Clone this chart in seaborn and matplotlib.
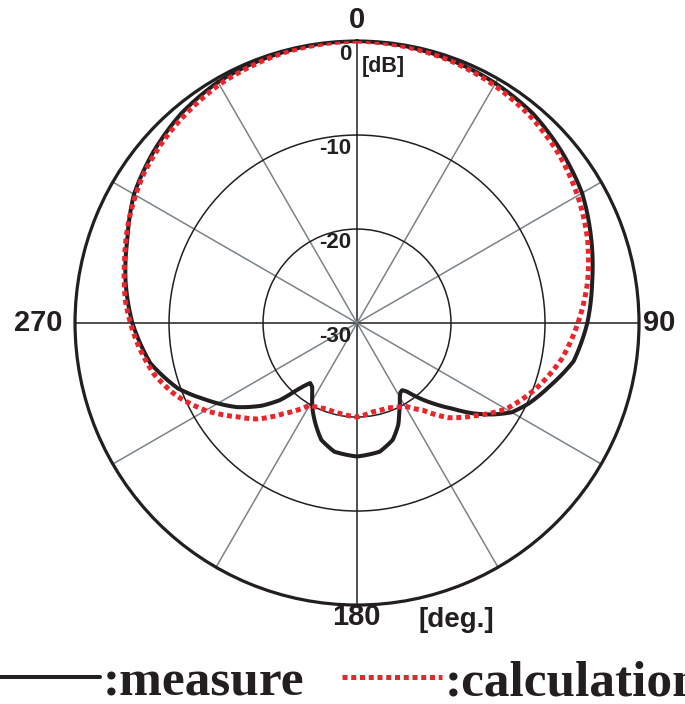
import numpy as np
import pandas as pd
import matplotlib
matplotlib.use("Agg")
import matplotlib.pyplot as plt
from matplotlib.transforms import offset_copy
import seaborn as sns

# measured pattern (angle in deg, level in dB)
meas_deg = [0, 10, 20, 30, 40, 50, 60, 70, 80, 90, 100, 108, 115, 120, 124, 128,
            132, 136, 140, 144, 146, 148, 150, 154, 158, 163, 170, 180, 190, 197,
            202, 207, 212, 215, 218, 220, 222, 225, 229, 232, 235, 243, 250, 259,
            270, 280, 290, 300, 310, 320, 330, 340, 350, 360]
meas_db = [0.0, -0.1, -0.3, -0.55, -0.9, -1.6, -2.35, -3.5, -4.6, -5.5, -6.6, -8.4,
           -9.8, -11.0, -12.6, -14.4, -16.4, -18.0, -19.5, -21.0, -21.4, -21.3,
           -20.9, -19.7, -18.3, -17.0, -16.1, -15.8, -16.1, -17.0, -18.3, -19.6,
           -21.0, -21.7, -21.9, -21.3, -20.4, -18.4, -16.6, -15.5, -14.4, -12.0,
           -9.7, -7.6, -6.1, -5.0, -4.0, -2.6, -1.7, -0.9, -0.4, -0.2, -0.05, 0.0]

# calculated pattern
calc_deg = [0, 10, 20, 30, 40, 50, 60, 70, 80, 90, 100, 110, 120, 128, 136, 143,
            150, 160, 170, 180, 190, 200, 210, 219, 226, 232, 240, 248, 256, 265,
            275, 285, 295, 305, 315, 330, 345, 360]
calc_db = [0.0, -0.15, -0.4, -0.8, -1.3, -2.0, -2.9, -3.9, -5.1, -6.5, -7.9, -9.7,
           -11.7, -14.0, -16.0, -18.4, -19.8, -20.4, -20.4, -20.0, -20.2, -20.3,
           -19.9, -17.6, -15.3, -13.8, -11.4, -9.3, -7.7, -6.5, -5.3, -4.4, -3.3,
           -2.3, -1.6, -0.7, -0.2, 0.0]

r_ticks = [-30, -20, -10, 0]
r_labels = ["-30", "-20", "-10", "0"]
theta_labels = {0: "0", 90: "90", 180: "180", 270: "270"}

measure = pd.DataFrame({"theta": np.deg2rad(meas_deg), "dB": meas_db})
calc = pd.DataFrame({"theta": np.deg2rad(calc_deg), "dB": calc_db})

sns.set_theme(style="white")
plt.rcParams["font.family"] = ["Liberation Sans", "DejaVu Sans"]

ink = "#231f20"
red = "#e8262b"

fig = plt.figure(figsize=(6.85, 7.04), dpi=100)
ax = fig.add_axes([0.1095, 0.1406, 0.8234, 0.8011], projection="polar")
ax.set_theta_zero_location("N")
ax.set_theta_direction(-1)

sns.lineplot(data=measure, x="theta", y="dB", ax=ax, sort=False, estimator=None,
             color=ink, lw=2.9, label=":measure", legend=False, zorder=3)
sns.lineplot(data=calc, x="theta", y="dB", ax=ax, sort=False, estimator=None,
             color=red, lw=3.6, linestyle=(0, (1, 0.75)), label=":calculation",
             legend=False, zorder=4)

# draw segments as arcs in (theta, r) space
for ln in ax.lines[:2]:
    ln.get_path()._interpolation_steps = 30

ax.set_rlim(-30, 0)
ax.set_yticks(r_ticks)
ax.set_yticklabels([])
ax.set_xticks(np.deg2rad(np.arange(0, 360, 30)))
ax.set_xticklabels([])
ax.set_xlabel("")
ax.set_ylabel("")
ax.set_axisbelow(True)
ax.grid(True, axis="x", color="#7a8389", lw=1.1)
ax.grid(True, axis="y", color=ink, lw=1.1)
for i, gl in enumerate(ax.xaxis.get_gridlines()):
    if i % 3 == 0:
        gl.set_color(ink)
ax.spines["polar"].set_color(ink)
ax.spines["polar"].set_linewidth(2.3)
ax.tick_params(pad=0, length=0)

def off(dx, dy):
    return offset_copy(ax.transData, fig=fig, x=dx, y=dy, units="dots")

# radial labels along the 0 deg spoke
for rv, lab in zip(r_ticks, r_labels):
    ax.text(0, rv, lab, transform=off(-6, -13), ha="right", va="center",
            fontsize=16, fontweight="bold", color=ink)
ax.text(0, 0, "[dB]", transform=off(5, -25), ha="left", va="center",
        fontsize=15.5, fontweight="bold", color=ink)

# angle labels
ax.text(np.deg2rad(0), 0, theta_labels[0], transform=off(0, 21), ha="center",
        va="center", fontsize=21, fontweight="bold", color=ink)
ax.text(np.deg2rad(90), 0, theta_labels[90], transform=off(4, 0), ha="left",
        va="center", fontsize=21, fontweight="bold", color=ink)
ax.text(np.deg2rad(180), 0, theta_labels[180], transform=off(-1, -12), ha="center",
        va="center", fontsize=21, fontweight="bold", color=ink)
ax.text(np.deg2rad(270), 0, theta_labels[270], transform=off(-13, 0), ha="right",
        va="center", fontsize=21, fontweight="bold", color=ink)
ax.text(np.deg2rad(180), 0, "[deg.]", transform=off(61, -15), ha="left",
        va="center", fontsize=20, fontweight="bold", color=ink)

fig.legend(handles=ax.lines[:2], labels=[":measure", ":calculation"],
           loc="center left", bbox_to_anchor=(0, 0.03), ncol=2, frameon=False,
           prop={"family": ["Liberation Serif", "DejaVu Serif"], "weight": "bold",
                 "size": 37},
           handlelength=1.95, handletextpad=0.05, columnspacing=0.73,
           borderpad=0, borderaxespad=0, labelcolor=ink)

fig.savefig("out.png", dpi=100)
